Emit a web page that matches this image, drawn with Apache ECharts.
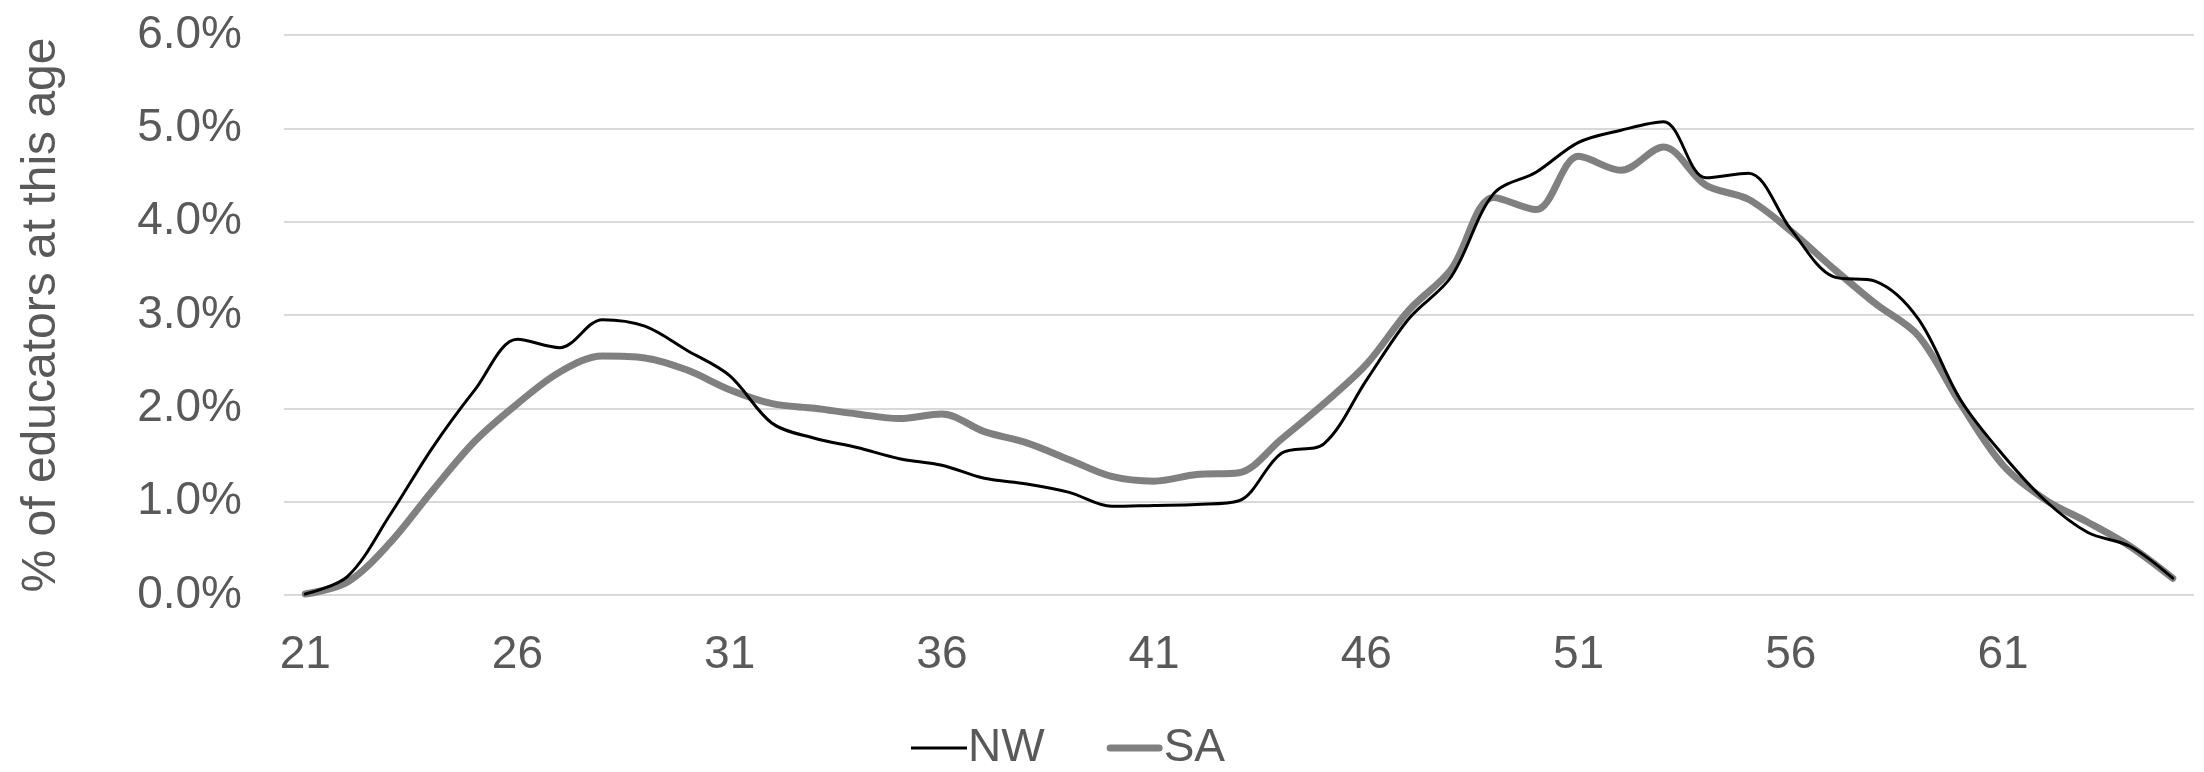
<!DOCTYPE html>
<html>
<head>
<meta charset="utf-8">
<script src="https://cdn.jsdelivr.net/npm/echarts@6/dist/echarts.min.js"></script>
<style>
  html, body { margin: 0; padding: 0; background: #ffffff; }
  #chart { width: 2204px; height: 772px; }
</style>
</head>
<body>
<div id="chart"></div>
<script>
// Age of educators (x axis categories)
const ages = [];
for (let a = 21; a <= 65; a++) ages.push(String(a));

// Share of educators at each age, in percent
const nwValues = [
  0.01, 0.20, 0.86, 1.58, 2.20, 2.74, 2.65, 2.95, 2.88, 2.62,
  2.35, 1.84, 1.68, 1.58, 1.46, 1.39, 1.25, 1.19, 1.10, 0.95,
  0.96, 0.97, 1.01, 1.52, 1.62, 2.30, 2.96, 3.41, 4.30, 4.53,
  4.85, 4.98, 5.07, 4.47, 4.52, 3.92, 3.41, 3.36, 2.96, 2.09,
  1.50, 1.01, 0.67, 0.52, 0.18
];
const saValues = [
  0.01, 0.14, 0.56, 1.12, 1.65, 2.05, 2.39, 2.56, 2.54, 2.41,
  2.20, 2.05, 2.00, 1.94, 1.89, 1.94, 1.75, 1.63, 1.45, 1.27,
  1.22, 1.29, 1.31, 1.67, 2.05, 2.47, 3.05, 3.49, 4.26, 4.13,
  4.70, 4.55, 4.80, 4.39, 4.24, 3.90, 3.50, 3.12, 2.78, 2.05,
  1.39, 1.02, 0.78, 0.52, 0.18
];

const seriesNames = ['NW', 'SA'];
const yAxisTitle = '% of educators at this age';

const FONT = 'Liberation Sans, Arial, sans-serif';
const TEXT = '#595959';

// Legend keys: thin black stroke and thick rounded grey stroke
const thinKey = 'path://M0,0 L56,0 L56,3 L0,3 Z';
const thickKey = 'path://M3.5,0 L52.5,0 A3.5,3.5 0 0 1 52.5,7 L3.5,7 A3.5,3.5 0 0 1 3.5,0 Z';

const chart = echarts.init(document.getElementById('chart'), null, { renderer: 'canvas' });
chart.setOption({
  animation: false,
  backgroundColor: '#ffffff',
  grid: { left: 284, right: 10, top: 35, bottom: 177, containLabel: false },
  legend: {
    data: [
      { name: seriesNames[0], icon: thinKey },
      { name: seriesNames[1], icon: thickKey }
    ],
    left: 906,
    top: 720,
    itemWidth: 56,
    itemHeight: 14,
    itemGap: 62,
    symbolKeepAspect: true,
    textStyle: { fontFamily: FONT, fontSize: 46, color: TEXT, padding: [0, 0, 0, -4] }
  },
  xAxis: {
    type: 'category',
    data: ages,
    boundaryGap: true,
    axisLine: { show: false },
    axisTick: { show: false },
    axisLabel: { interval: 4, margin: 37, fontFamily: FONT, fontSize: 46, color: TEXT },
    splitLine: { show: false }
  },
  yAxis: {
    type: 'value',
    min: 0,
    max: 6,
    interval: 1,
    name: yAxisTitle,
    nameLocation: 'middle',
    nameGap: 218,
    nameTextStyle: { fontFamily: FONT, fontSize: 48, color: TEXT },
    axisLine: { show: false },
    axisTick: { show: false },
    axisLabel: {
      margin: 42,
      fontFamily: FONT, fontSize: 46, color: TEXT,
      formatter: v => v.toFixed(1) + '%'
    },
    splitLine: { lineStyle: { color: '#d9d9d9', width: 2 } }
  },
  series: [
    {
      name: seriesNames[0],
      type: 'line',
      data: nwValues,
      smooth: 0.33,
      symbol: 'none',
      z: 3,
      lineStyle: { color: '#000000', width: 3, cap: 'round' },
      itemStyle: { color: '#000000' }
    },
    {
      name: seriesNames[1],
      type: 'line',
      data: saValues,
      smooth: 0.33,
      symbol: 'none',
      z: 2,
      lineStyle: { color: '#808080', width: 7, cap: 'round' },
      itemStyle: { color: '#808080' }
    }
  ]
});
</script>
</body>
</html>
